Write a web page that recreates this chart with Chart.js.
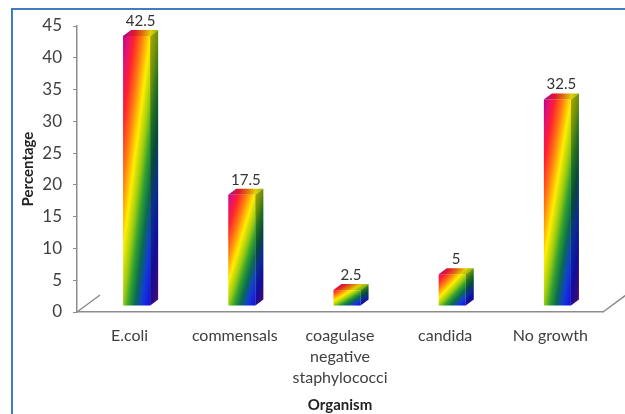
<!DOCTYPE html>
<html>
<head>
<meta charset="utf-8">
<script src="https://cdn.jsdelivr.net/npm/chart.js@4.4.1/dist/chart.umd.min.js"></script>
<style>
  html, body { margin: 0; padding: 0; background: #fff; }
  #wrap { position: relative; width: 625px; height: 414px; overflow: hidden; }
  #frame { position: absolute; left: 11px; top: 8px; width: 700px; height: 500px; border: 2px solid #3f7cc2; }
  #chart { position: absolute; left: 0; top: 0; }
</style>
</head>
<body>
<div id="wrap">
  <div id="frame"></div>
  <canvas id="chart" width="625" height="414"></canvas>
</div>
<script>
var organisms = ["E.coli", "commensals", ["coagulase", "negative", "staphylococci"], "candida", "No growth"];
var percentages = [42.5, 17.5, 2.5, 5, 32.5];
var valueLabels = ["42.5", "17.5", "2.5", "5", "32.5"];

var FONT = "Lato, 'Open Sans', sans-serif";
// 3d look: bars sit a bit behind the front edge of the floor
var SHIFT_X = 7, SHIFT_Y = -6;
var DEPTH_X = 8, DEPTH_Y = 6;
var rainbow = [
    [0, "#b0008c"], [0.08, "#e0107a"], [0.17, "#ff2030"], [0.28, "#ff7a10"],
    [0.4, "#ffee00"], [0.5, "#9ccc10"], [0.58, "#30a030"], [0.67, "#0a6a50"],
    [0.76, "#1040d0"], [0.86, "#1a14e0"], [0.94, "#4a10b0"], [1, "#8a10a0"]
];

function makeGradient(ctx, bx, by, bw, bh) {
    // colour follows (u + v) / 2 inside the bar's own box, like the office preset
    var k = 2 / (1 / (bw * bw) + 1 / (bh * bh));
    var g = ctx.createLinearGradient(bx, by, bx + k / bw, by + k / bh);
    rainbow.forEach(function(s) { g.addColorStop(s[0], s[1]); });
    return g;
}

var bars3d = {
    id: "bars3d",
    beforeDatasetsDraw: function(chart) {
        var ctx = chart.ctx;
        var area = chart.chartArea;
        // floor side edges
        ctx.save();
        ctx.strokeStyle = "#8c8c8c";
        ctx.lineWidth = 1.5;
        ctx.beginPath();
        ctx.moveTo(area.left, area.bottom);
        ctx.lineTo(area.left + 23, area.bottom - 17);
        ctx.moveTo(area.right, area.bottom);
        ctx.lineTo(area.right + 23, area.bottom - 17);
        ctx.stroke();
        ctx.restore();
    },
    afterDatasetsDraw: function(chart) {
        var ctx = chart.ctx;
        var meta = chart.getDatasetMeta(0);
        meta.data.forEach(function(bar, i) {
            var p = bar.getProps(["x", "y", "base", "width"], true);
            var left = p.x - p.width / 2 + SHIFT_X;
            var right = p.x + p.width / 2 + SHIFT_X;
            var top = p.y + SHIFT_Y;
            var bottom = p.base + SHIFT_Y;
            var g = makeGradient(ctx, left, top - DEPTH_Y, p.width + DEPTH_X, bottom - top + DEPTH_Y);

            ctx.save();
            ctx.fillStyle = g;
            ctx.fillRect(left, top, right - left, bottom - top);

            // side face
            ctx.beginPath();
            ctx.moveTo(right, top);
            ctx.lineTo(right + DEPTH_X, top - DEPTH_Y);
            ctx.lineTo(right + DEPTH_X, bottom - DEPTH_Y);
            ctx.lineTo(right, bottom);
            ctx.closePath();
            ctx.fillStyle = g;
            ctx.fill();
            ctx.fillStyle = "rgba(0,0,0,0.3)";
            ctx.fill();

            // top face
            ctx.beginPath();
            ctx.moveTo(left, top);
            ctx.lineTo(left + DEPTH_X, top - DEPTH_Y);
            ctx.lineTo(right + DEPTH_X, top - DEPTH_Y);
            ctx.lineTo(right, top);
            ctx.closePath();
            ctx.fillStyle = g;
            ctx.fill();
            ctx.fillStyle = "rgba(0,0,0,0.12)";
            ctx.fill();

            // value label
            ctx.fillStyle = "#333";
            ctx.font = "15px " + FONT;
            ctx.textAlign = "center";
            ctx.textBaseline = "alphabetic";
            ctx.fillText(valueLabels[i], (left + right + DEPTH_X) / 2, top - DEPTH_Y - 4);
            ctx.restore();
        });
    }
};

new Chart(document.getElementById("chart"), {
    type: "bar",
    data: {
        labels: organisms,
        datasets: [{
            data: percentages,
            backgroundColor: "rgba(0,0,0,0)",
            borderWidth: 0,
            categoryPercentage: 1,
            barPercentage: 0.257
        }]
    },
    options: {
        responsive: false,
        animation: false,
        events: [],
        layout: { padding: { top: 26, right: 22, bottom: 0, left: 0 } },
        plugins: { legend: { display: false }, tooltip: { enabled: false } },
        scales: {
            x: {
                grid: { display: false, drawTicks: false },
                border: { display: true, color: "#8c8c8c", width: 1.5 },
                ticks: {
                    color: "#404040", padding: 13, maxRotation: 0, autoSkip: false,
                    font: { family: FONT, size: 16, lineHeight: 1.33 }
                },
                title: {
                    display: true, text: "Organism", color: "#222",
                    font: { family: FONT, size: 15, weight: "bold", lineHeight: 1.2 },
                    padding: 0
                },
                afterFit: function(s) { s.height = 102; }
            },
            y: {
                min: 0, max: 45,
                grid: { drawOnChartArea: false, drawTicks: true, tickLength: 4, color: "#8c8c8c" },
                border: { display: true, color: "#8c8c8c", width: 1.5 },
                ticks: {
                    stepSize: 5, color: "#404040", padding: 11,
                    font: { family: FONT, size: 17 }
                },
                title: {
                    display: true, text: "Percentage", color: "#222",
                    font: { family: FONT, size: 15, weight: "bold", lineHeight: 1.2 },
                    padding: { top: 19, bottom: 0 }
                },
                afterFit: function(s) { s.width = 77; }
            }
        }
    },
    plugins: [bars3d]
});
</script>
</body>
</html>
